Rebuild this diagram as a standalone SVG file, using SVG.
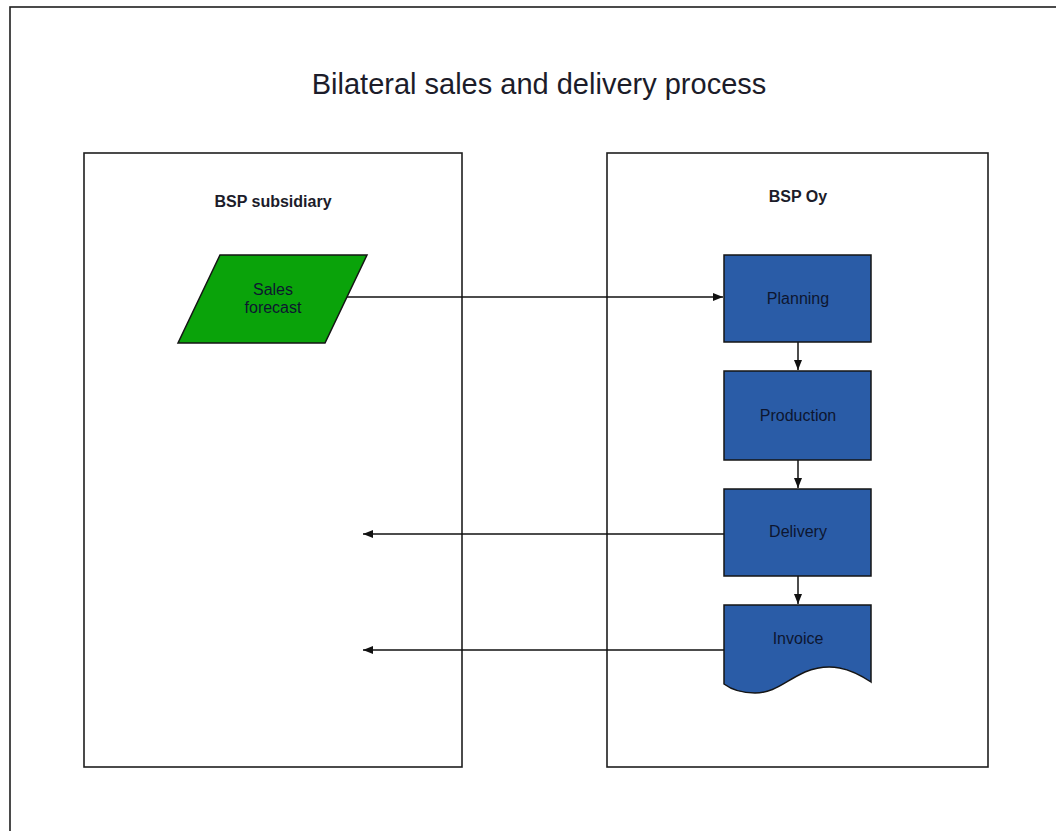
<svg xmlns="http://www.w3.org/2000/svg" width="1056" height="831" viewBox="0 0 1056 831">
  <style>
    .frame { fill: #ffffff; stroke: #1e1e1e; stroke-width: 1.6; }
    .lane { fill: #ffffff; stroke: #1e1e1e; stroke-width: 1.6; }
    .title { font-family: "Liberation Sans", Arial, sans-serif; font-size: 29px; fill: #1c1c2a; text-anchor: middle; }
    .lane-label { font-family: "Liberation Sans", Arial, sans-serif; font-size: 16px; font-weight: bold; fill: #1c1c2a; text-anchor: middle; }
    .step { fill: #2a5ca7; stroke: #151515; stroke-width: 1.5; }
    .input { fill: #0aa30a; stroke: #151515; stroke-width: 1.5; }
    .label { font-family: "Liberation Sans", Arial, sans-serif; font-size: 16px; fill: #0d1630; text-anchor: middle; }
    .flow { fill: none; stroke: #111111; stroke-width: 1.5; }
  </style>
  <defs>
    <marker id="arrow" markerWidth="10" markerHeight="8" refX="10" refY="4" orient="auto" markerUnits="userSpaceOnUse">
      <path d="M0,0 L10,4 L0,8 Z" fill="#111111"/>
    </marker>
  </defs>

  <rect width="1056" height="831" fill="#ffffff"/>
  <!-- page frame -->
  <rect class="frame" x="10" y="7" width="1060" height="840"/>

  <text class="title" x="539" y="94">Bilateral sales and delivery process</text>

  <!-- swimlanes -->
  <g id="lane-subsidiary">
    <rect class="lane" x="84" y="153" width="378" height="614"/>
    <text class="lane-label" x="273" y="207">BSP subsidiary</text>
  </g>
  <g id="lane-oy">
    <rect class="lane" x="607" y="153" width="381" height="614"/>
    <text class="lane-label" x="798" y="202">BSP Oy</text>
  </g>

  <!-- connectors -->
  <g id="connectors">
    <line class="flow" x1="345" y1="297" x2="723" y2="297" marker-end="url(#arrow)"/>
    <line class="flow" x1="798" y1="342" x2="798" y2="370" marker-end="url(#arrow)"/>
    <line class="flow" x1="798" y1="460" x2="798" y2="488" marker-end="url(#arrow)"/>
    <line class="flow" x1="798" y1="576" x2="798" y2="604" marker-end="url(#arrow)"/>
    <line class="flow" x1="724" y1="534" x2="363" y2="534" marker-end="url(#arrow)"/>
    <line class="flow" x1="724" y1="650" x2="363" y2="650" marker-end="url(#arrow)"/>
  </g>

  <!-- nodes -->
  <g id="sales-forecast">
    <polygon class="input" points="220,255 367,255 325,343 178,343"/>
    <text class="label" x="273" y="295">Sales</text>
    <text class="label" x="273" y="313">forecast</text>
  </g>
  <g id="planning">
    <rect class="step" x="724" y="255" width="147" height="87"/>
    <text class="label" x="798" y="304">Planning</text>
  </g>
  <g id="production">
    <rect class="step" x="724" y="371" width="147" height="89"/>
    <text class="label" x="798" y="421">Production</text>
  </g>
  <g id="delivery">
    <rect class="step" x="724" y="489" width="147" height="87"/>
    <text class="label" x="798" y="537">Delivery</text>
  </g>
  <g id="invoice">
    <path class="step" d="M724,605 L871,605 L871,682 C850,668 830,662 805,672 C785,681 775,693 755,693 C742,693 732,690 724,684 Z"/>
    <text class="label" x="798" y="644">Invoice</text>
  </g>
</svg>
